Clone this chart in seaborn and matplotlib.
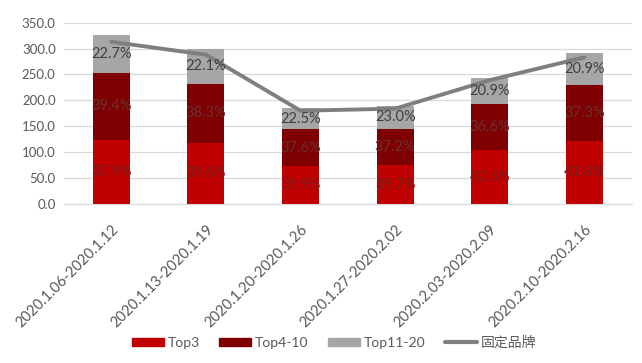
"""
Weekly sales structure: stacked Top3 / Top4-10 / Top11-20 bars with a brand line.
"""

import numpy as np
import pandas as pd
import matplotlib
matplotlib.use("Agg")
import matplotlib.pyplot as plt
import seaborn as sns
from matplotlib.patches import Patch
from matplotlib.lines import Line2D

weeks = ["2020.1.06-2020.1.12", "2020.1.13-2020.1.19", "2020.1.20-2020.1.26",
         "2020.1.27-2020.2.02", "2020.2.03-2020.2.09", "2020.2.10-2020.2.16"]
top3 = [124, 118, 74, 75, 104, 122]
top4_10 = [129, 114, 70, 70, 89, 108]
top11_20 = [74, 67, 41, 44, 51, 61]
fixed_brand = [313, 288, 180, 184, 239, 283]

top3_pct = ["37.9%", "39.6%", "39.9%", "39.7%", "42.6%", "41.8%"]
top4_10_pct = ["39.4%", "38.3%", "37.6%", "37.2%", "36.6%", "37.3%"]
top11_20_pct = ["22.7%", "22.1%", "22.5%", "23.0%", "20.9%", "20.9%"]

sns.set_style("white")
plt.rcParams["font.family"] = ["Lato", "Noto Sans CJK SC", "DejaVu Sans"]

df = pd.DataFrame({"week": weeks, "top3": top3, "top4_10": top4_10,
                   "top11_20": top11_20, "brand": fixed_brand})
df["lvl2"] = df["top3"] + df["top4_10"]
df["lvl3"] = df["lvl2"] + df["top11_20"]

c_top3, c_top4, c_top11, c_line = "#C00000", "#7F0000", "#A6A6A6", "#7F7F7F"

fig = plt.figure(figsize=(6.42, 3.63), dpi=100)
ax = fig.add_axes([0.0997, 0.438, 0.8843, 0.4997])

# draw from the tallest layer down so each one covers the part below
for col, color in [("lvl3", c_top11), ("lvl2", c_top4), ("top3", c_top3)]:
    sns.barplot(data=df, x="week", y=col, color=color, width=0.39,
                saturation=1, linewidth=0, ax=ax, zorder=2)

x = np.arange(len(weeks))
sns.lineplot(x=x, y=df["brand"], color=c_line, linewidth=2.8, ax=ax, zorder=3)

# percentage labels in the middle of each segment
for i in range(len(weeks)):
    mids = [df["top3"][i] / 2,
            df["top3"][i] + df["top4_10"][i] / 2,
            df["lvl2"][i] + df["top11_20"][i] / 2]
    for y, txt, col in zip(mids, [top3_pct[i], top4_10_pct[i], top11_20_pct[i]],
                           ["#7a2020", "#6a3030", "#404040"]):
        ax.text(i, y, txt, ha="center", va="center", fontsize=10.5, color=col, zorder=4)

ax.set_ylim(0, 350)
ax.set_xlim(-0.5, len(weeks) - 0.5)
ax.set_yticks(np.arange(0, 351, 50))
ax.set_yticklabels([f"{v:.1f}" for v in np.arange(0, 351, 50)])
ax.yaxis.grid(True, color="#D9D9D9", linewidth=0.9, zorder=0)
ax.set_axisbelow(True)
ax.set_xlabel("")
ax.set_ylabel("")
ax.set_xticks(x)
ax.set_xticklabels(weeks, rotation=45, ha="right", rotation_mode="anchor")
ax.tick_params(axis="y", length=0, labelsize=9.5, colors="#595959", pad=6)
ax.tick_params(axis="x", length=0, labelsize=10.5, colors="#595959", pad=13)
for side in ["top", "right", "left"]:
    ax.spines[side].set_visible(False)
ax.spines["bottom"].set_color("#D9D9D9")

handles = [Patch(color=c_top3, label="Top3"),
           Patch(color=c_top4, label="Top4-10"),
           Patch(color=c_top11, label="Top11-20"),
           Line2D([0], [0], color=c_line, linewidth=3, label="固定品牌")]
fig.legend(handles=handles, loc="center", bbox_to_anchor=(0.52, 0.058), ncol=4,
           frameon=False, fontsize=10, handlelength=2.3, handleheight=0.55,
           columnspacing=1.4, handletextpad=0.28, labelcolor="#595959")

fig.savefig("out.png", dpi=100)
